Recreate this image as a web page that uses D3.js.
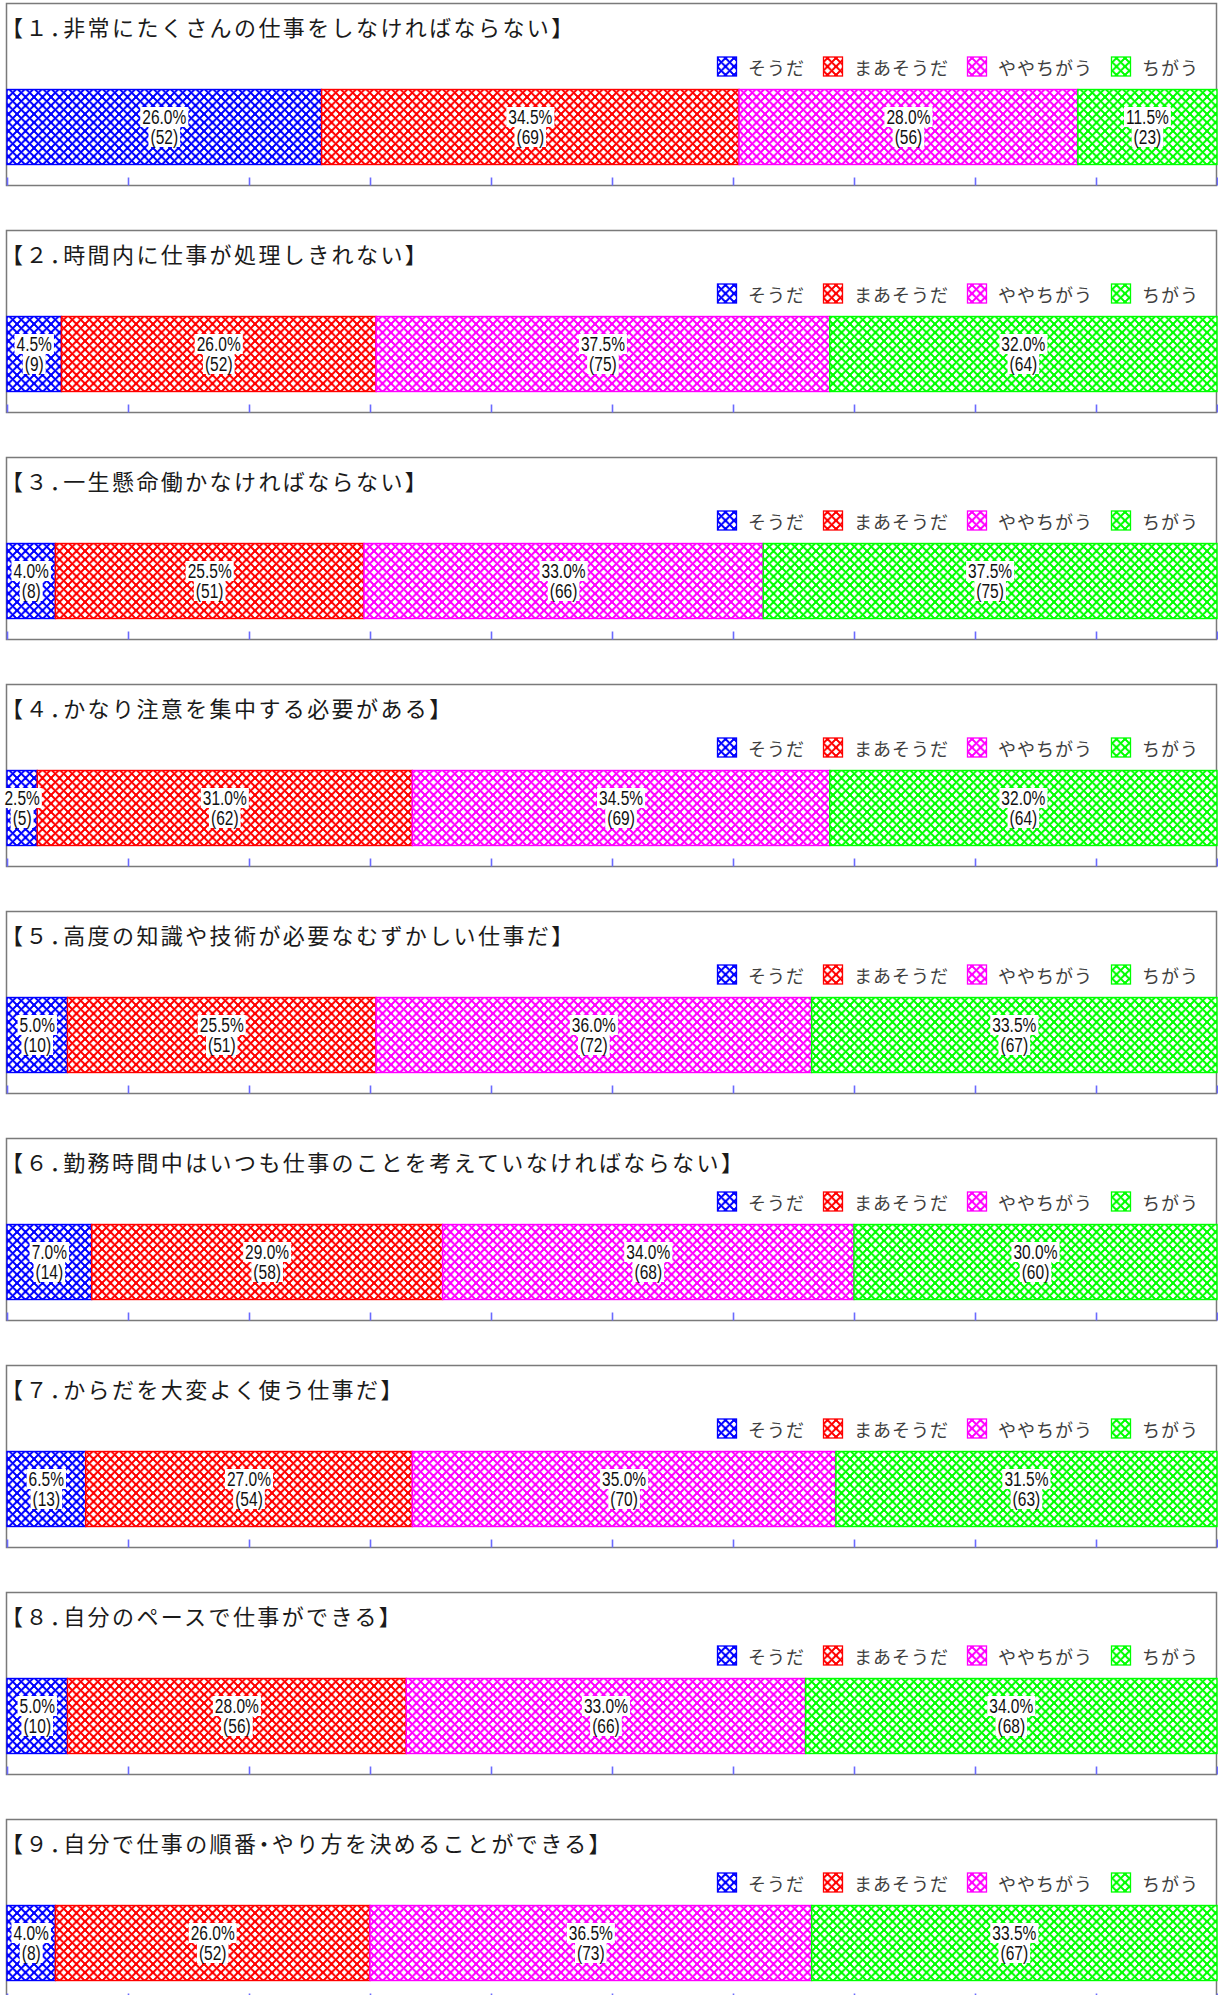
<!DOCTYPE html>
<html>
<head>
<meta charset="utf-8">
<script src="https://cdn.jsdelivr.net/npm/d3@7"></script>
<style>
  html, body { margin: 0; padding: 0; background: #fff; overflow: hidden; }
  svg { display: block; }
  .ttl { font-feature-settings: "halt" 1; }
</style>
</head>
<body>
<div id="chart"></div>
<script>
// ---------------- data ----------------
const titles = [
  "【１．非常にたくさんの仕事をしなければならない】",
  "【２．時間内に仕事が処理しきれない】",
  "【３．一生懸命働かなければならない】",
  "【４．かなり注意を集中する必要がある】",
  "【５．高度の知識や技術が必要なむずかしい仕事だ】",
  "【６．勤務時間中はいつも仕事のことを考えていなければならない】",
  "【７．からだを大変よく使う仕事だ】",
  "【８．自分のペースで仕事ができる】",
  "【９．自分で仕事の順番・やり方を決めることができる】"
];
const categories = ["そうだ", "まあそうだ", "ややちがう", "ちがう"];

// percentages per category (one value per question)
const pctSouda      = [26.0, 4.5, 4.0, 2.5, 5.0, 7.0, 6.5, 5.0, 4.0];
const pctMaaSouda   = [34.5, 26.0, 25.5, 31.0, 25.5, 29.0, 27.0, 28.0, 26.0];
const pctYayaChigau = [28.0, 37.5, 33.0, 34.5, 36.0, 34.0, 35.0, 33.0, 36.5];
const pctChigau     = [11.5, 32.0, 37.5, 32.0, 33.5, 30.0, 31.5, 34.0, 33.5];

// counts per category
const nSouda      = [52, 9, 8, 5, 10, 14, 13, 10, 8];
const nMaaSouda   = [69, 52, 51, 62, 51, 58, 54, 56, 52];
const nYayaChigau = [56, 75, 66, 69, 72, 68, 70, 66, 73];
const nChigau     = [23, 64, 75, 64, 67, 60, 63, 68, 67];

const xTicks = [0, 10, 20, 30, 40, 50, 60, 70, 80, 90, 100];

// ---------------- layout ----------------
const W = 1218, H = 1995;
const colors = ["#0000ff", "#ff0000", "#ff00ff", "#00ff00"];
const pctSeries = [pctSouda, pctMaaSouda, pctYayaChigau, pctChigau];
const nSeries = [nSouda, nMaaSouda, nYayaChigau, nChigau];

const panelTop0 = 3.5, panelPitch = 227, panelH = 182;
const panelLeft = 6.5, panelRight = 1216.5;
const barTop = 86, barH = 75;

const svg = d3.select("#chart").append("svg")
  .attr("width", W).attr("height", H);

// hatch patterns
const defs = svg.append("defs");
const T = 8.5;
colors.forEach((c, i) => {
  const p = defs.append("pattern")
    .attr("id", "hatch" + i)
    .attr("patternUnits", "userSpaceOnUse")
    .attr("width", T).attr("height", T);
  p.append("rect").attr("width", T).attr("height", T).attr("fill", "#fff");
  const d = [];
  [-T, 0, T].forEach(o => {
    d.push(`M${-1 + o},-1 L${T + 1 + o},${T + 1}`);
    d.push(`M${T + 1 + o},-1 L${-1 + o},${T + 1}`);
  });
  p.append("path").attr("d", d.join(" "))
    .attr("stroke", c).attr("stroke-width", 1.6).attr("fill", "none")
    .attr("shape-rendering", "crispEdges");
});

const x = d3.scaleLinear().domain([0, 100]).range([7, 1217]);
const fmt = d3.format(".1f");

titles.forEach((title, qi) => {
  const g = svg.append("g")
    .attr("transform", `translate(0,${panelTop0 + qi * panelPitch})`);

  // panel frame
  g.append("rect")
    .attr("x", panelLeft).attr("y", 0)
    .attr("width", panelRight - panelLeft).attr("height", panelH)
    .attr("fill", "#fff").attr("stroke", "#7a7a7a").attr("stroke-width", 1.5);

  // title (punctuation set half-width, as in the proportional original)
  g.append("text")
    .attr("class", "ttl")
    .attr("x", 12).attr("y", 22.5)
    .attr("dominant-baseline", "central")
    .attr("font-family", "'Noto Sans CJK JP', sans-serif")
    .attr("font-size", 22).attr("letter-spacing", 2.4)
    .attr("fill", "#1a1a1a")
    .text(title);

  // legend
  const leg = g.append("g").attr("transform", "translate(717,63)");
  let lx = 0;
  categories.forEach((cat, ci) => {
    leg.append("rect")
      .attr("x", lx + 0.5).attr("y", -9.5).attr("width", 19).attr("height", 19)
      .attr("fill", `url(#hatch${ci})`)
      .attr("stroke", colors[ci]).attr("stroke-width", 1.3);
    const t = leg.append("text")
      .attr("x", lx + 31).attr("y", 0)
      .attr("dominant-baseline", "central")
      .attr("font-family", "'Noto Sans CJK JP', sans-serif")
      .attr("font-size", 18).attr("letter-spacing", 1)
      .attr("fill", "#404040")
      .text(cat);
    lx += 31 + t.node().getComputedTextLength() + 18;
  });

  // stacked bar
  const row = {};
  categories.forEach((c, ci) => row[c] = pctSeries[ci][qi]);
  const stacked = d3.stack().keys(categories)([row]);

  stacked.forEach((s, ci) => {
    const d = s[0];
    g.append("rect")
      .attr("x", x(d[0])).attr("y", barTop)
      .attr("width", x(d[1]) - x(d[0])).attr("height", barH)
      .attr("fill", `url(#hatch${ci})`)
      .attr("stroke", colors[ci]).attr("stroke-width", 1.4);
  });

  // labels
  stacked.forEach((s, ci) => {
    const d = s[0];
    const cx = (x(d[0]) + x(d[1])) / 2;
    const lines = [fmt(pctSeries[ci][qi]) + "%", "(" + nSeries[ci][qi] + ")"];
    const cys = [barTop + 27.5, barTop + 47.5];
    const lg = g.append("g");
    lines.forEach((ln, li) => {
      const bg = lg.append("rect").attr("fill", "#fff");
      const t = lg.append("text")
        .attr("transform", `translate(${cx},${cys[li]}) scale(0.74,1)`)
        .attr("text-anchor", "middle")
        .attr("dominant-baseline", "central")
        .attr("font-family", "'Liberation Sans', Arial, sans-serif")
        .attr("font-size", 21)
        .attr("fill", "#111")
        .text(ln);
      const w = t.node().getComputedTextLength() * 0.74 + 4;
      bg.attr("x", cx - w / 2).attr("y", cys[li] - 10)
        .attr("width", w).attr("height", 20);
    });
  });

  // ticks along bottom edge
  const axis = d3.axisTop(x).tickValues(xTicks).tickSize(8).tickFormat("");
  const ax = g.append("g").attr("transform", `translate(0,${panelH})`).call(axis);
  ax.select(".domain").remove();
  ax.selectAll(".tick line").attr("stroke", "#6a6aff").attr("stroke-width", 1.6);
});
</script>
</body>
</html>
